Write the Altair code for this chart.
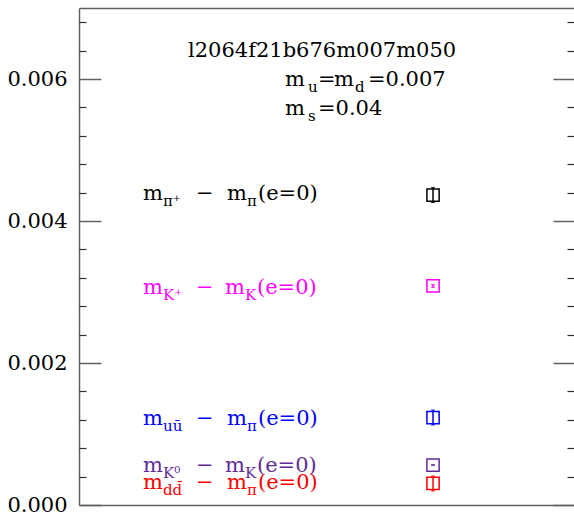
import altair as alt
import pandas as pd

# ---------------- data ----------------
series = ["pi+", "K+", "uubar", "K0", "ddbar"]
values = [0.004366, 0.003085, 0.001232, 0.000563, 0.000303]
errors = [0.000105, 0.000020, 0.000105, 0.000006, 0.000105]
colors = ["#000000", "#ff00ff", "#0000ff", "#5f2d96", "#ff0000"]
point_x = [7.152, 7.152, 7.152, 7.152, 7.152]

label_x = [1.293, 1.293, 1.293, 1.293, 1.293]
label_y = [0.004296, 0.002972, 0.001127, 0.000465, 0.000225]
label_sub1 = ["π⁺", "K⁺", "uū", "K⁰", "dd̄"]
label_sub2 = ["π", "K", "π", "K", "π"]

y_major = [0.0, 0.002, 0.004, 0.006]
y_minor = [0.0004, 0.0008, 0.0012, 0.0016, 0.0024, 0.0028, 0.0032, 0.0036,
           0.0044, 0.0048, 0.0052, 0.0056, 0.0064, 0.0068]

title_main_text = ["l2064f21b676m007m050", "m", "=", "m", "=0.007", "m", "=0.04"]
title_main_x = [2.202, 4.162, 4.828, 5.152, 5.838, 4.162, 4.828]
title_main_y = [0.006310, 0.005901, 0.005901, 0.005901, 0.005901, 0.005493, 0.005493]
title_sub_text = ["u", "d", "s"]
title_sub_x = [4.626, 5.576, 4.626]
title_sub_y = [0.005901, 0.005901, 0.005493]

# ---------------- layout ----------------
W, H = 495, 497
X_MAX, Y_MAX = 10.0, 0.007
PX = X_MAX / W  # data units per pixel along x
FONT = "DejaVu Serif"
AX = "#606060"
MAIN_SIZE, SUB_SIZE = 21, 15

# pixel offsets of the label pieces from the label start
off_pi = {"sub1": 20, "minus": 53, "m2": 84, "sub2": 104, "paren": 115}
off_k = {"sub1": 20, "minus": 53, "m2": 82, "sub2": 102, "paren": 114}

pts = pd.DataFrame({
    "series": series, "value": values, "x": point_x, "color": colors,
    "lo": [v - e for v, e in zip(values, errors)],
    "hi": [v + e for v, e in zip(values, errors)],
})

main_rows, sub_rows = [], []
for i in range(len(series)):
    off = off_k if label_sub2[i] == "K" else off_pi
    x0, y0, c = label_x[i], label_y[i], colors[i]
    main_rows += [
        {"x": x0, "y": y0, "t": "m", "color": c},
        {"x": x0 + off["minus"] * PX, "y": y0, "t": "−", "color": c},
        {"x": x0 + off["m2"] * PX, "y": y0, "t": "m", "color": c},
        {"x": x0 + off["paren"] * PX, "y": y0, "t": "(e=0)", "color": c},
    ]
    sub_rows += [
        {"x": x0 + off["sub1"] * PX, "y": y0, "t": label_sub1[i], "color": c},
        {"x": x0 + off["sub2"] * PX, "y": y0, "t": label_sub2[i], "color": c},
    ]
for t, x, y in zip(title_main_text, title_main_x, title_main_y):
    main_rows.append({"x": x, "y": y, "t": t, "color": "#000000"})
for t, x, y in zip(title_sub_text, title_sub_x, title_sub_y):
    sub_rows.append({"x": x, "y": y, "t": t, "color": "#000000"})

main_df = pd.DataFrame(main_rows)
sub_df = pd.DataFrame(sub_rows)

xs = alt.Scale(domain=[0, X_MAX], nice=False, zero=False)
ys = alt.Scale(domain=[0, Y_MAX], nice=False, zero=True)

ax_left = alt.Axis(orient="left", values=y_major, format=".3f", ticks=False, domain=True,
                   labelPadding=12, grid=False, title=None, labelFont=FONT,
                   labelFontSize=MAIN_SIZE, labelColor="#000000", domainColor=AX,
                   domainWidth=1.5)
ax_left_major = alt.Axis(orient="left", values=y_major, labels=False, domain=False, grid=False,
                         title=None, tickSize=22, offset=-22, tickColor=AX, tickWidth=1.5)
ax_left_minor = alt.Axis(orient="left", values=y_minor, labels=False, domain=False, grid=False,
                         title=None, tickSize=7, offset=-7, tickColor="#303030", tickWidth=1.2)
ax_right_major = alt.Axis(orient="right", values=y_major, labels=False, domain=False, grid=False,
                          title=None, tickSize=21, offset=-21, tickColor=AX, tickWidth=1.5)
ax_right_minor = alt.Axis(orient="right", values=y_minor, labels=False, domain=False, grid=False,
                          title=None, tickSize=7, offset=-7, tickColor="#303030", tickWidth=1.2)
ax_bottom = alt.Axis(orient="bottom", labels=False, ticks=False, domain=True, grid=False,
                     title=None, domainColor=AX, domainWidth=1.5)
ax_top = alt.Axis(orient="top", labels=False, ticks=False, domain=True, grid=False,
                  title=None, domainColor=AX, domainWidth=1.5)

col = alt.Color("color:N", scale=None)

err = alt.Chart(pts).mark_rule(strokeWidth=1.5).encode(
    x=alt.X("x:Q", scale=xs, axis=ax_bottom),
    y=alt.Y("lo:Q", scale=ys, axis=ax_left),
    y2="hi:Q",
    color=col,
)
cap_lo = alt.Chart(pts).mark_tick(orient="horizontal", size=4, thickness=1.2).encode(
    x=alt.X("x:Q", scale=xs, axis=ax_top),
    y=alt.Y("lo:Q", scale=ys, axis=ax_left_major),
    color=col,
)
cap_hi = alt.Chart(pts).mark_tick(orient="horizontal", size=4, thickness=1.2).encode(
    x=alt.X("x:Q", scale=xs, axis=None),
    y=alt.Y("hi:Q", scale=ys, axis=ax_left_minor),
    color=col,
)
squares = alt.Chart(pts).mark_point(shape="square", size=150, filled=False, strokeWidth=1.5,
                                    opacity=1).encode(
    x=alt.X("x:Q", scale=xs, axis=None),
    y=alt.Y("value:Q", scale=ys, axis=ax_right_major),
    color=col,
)
main_text = alt.Chart(main_df).mark_text(font=FONT, fontSize=MAIN_SIZE, align="left",
                                         baseline="alphabetic").encode(
    x=alt.X("x:Q", scale=xs, axis=None),
    y=alt.Y("y:Q", scale=ys, axis=ax_right_minor),
    text="t:N",
    color=col,
)
sub_text = alt.Chart(sub_df).mark_text(font=FONT, fontSize=SUB_SIZE, align="left",
                                       baseline="alphabetic", dy=6).encode(
    x=alt.X("x:Q", scale=xs, axis=None),
    y=alt.Y("y:Q", scale=ys, axis=None),
    text="t:N",
    color=col,
)

chart = alt.layer(err, cap_lo, cap_hi, squares, main_text, sub_text).resolve_scale(
    x="shared", y="shared"
).resolve_axis(
    x="independent", y="independent"
).properties(
    width=W, height=H,
    autosize=alt.AutoSizeParams(type="none"),
    padding={"left": 79, "top": 8, "right": 0, "bottom": 8},
).configure_view(stroke=None)

chart.save("out.html", embed_options={"renderer": "svg", "actions": False})
